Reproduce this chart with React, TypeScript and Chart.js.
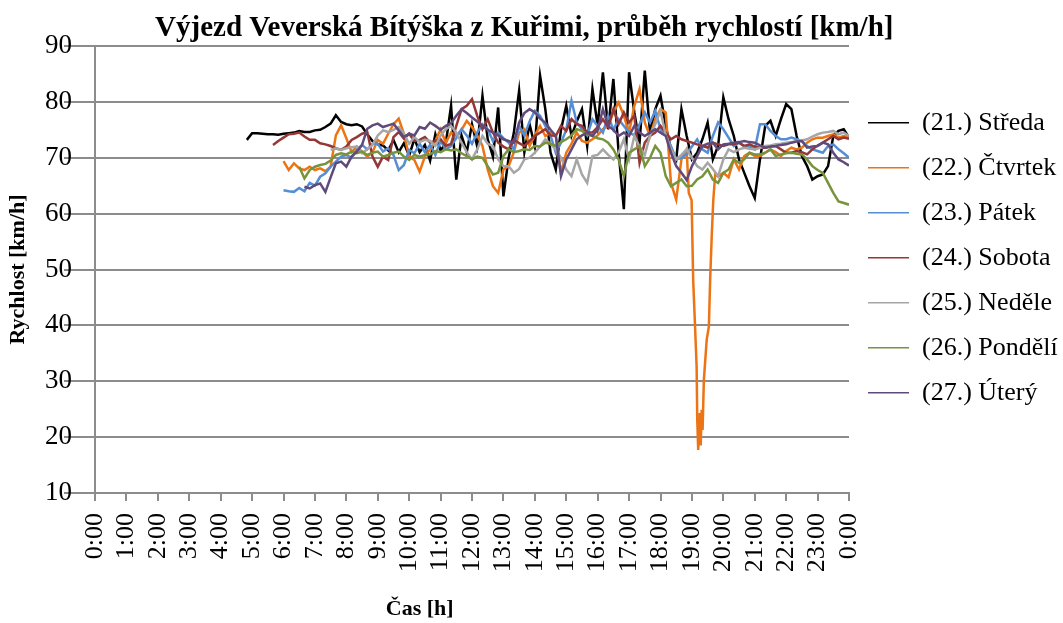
import React, { useEffect, useRef } from 'react';
import { Chart, registerables } from 'chart.js';

Chart.register(...registerables);

const FONT = "'Liberation Serif', 'Times New Roman', serif";
const GRID = '#8c8c8c';

const TITLE = 'Výjezd Veverská Bítýška z Kuřimi, průběh rychlostí [km/h]';
const Y_TITLE = 'Rychlost [km/h]';
const X_TITLE = 'Čas [h]';

const hourLabels = [
  '0:00', '1:00', '2:00', '3:00', '4:00', '5:00', '6:00', '7:00', '8:00', '9:00', '10:00', '11:00',
  '12:00', '13:00', '14:00', '15:00', '16:00', '17:00', '18:00', '19:00', '20:00', '21:00', '22:00', '23:00', '0:00',
];

const seriesNames = [
  '(21.) Středa', '(22.) Čtvrtek', '(23.) Pátek', '(24.) Sobota', '(25.) Neděle', '(26.) Pondělí', '(27.) Úterý',
];
const seriesColors = ['#000000', '#EC7414', '#558ED5', '#953735', '#A6A6A6', '#77933C', '#604A7B'];

// sampling step: 10 minutes (in hours)
const STEP = 1 / 6;

// (21.) Středa – from 4:50
const stredaStart = 4 + 50 / 60;
const stredaValues = [
  73.2,
  74.4, 74.4, 74.3, 74.2, 74.2, 74.1,
  74.3, 74.4, 74.5, 74.8, 74.6, 74.6,
  74.9, 75.0, 75.5, 76.1, 77.6, 76.4,
  76.0, 75.8, 76.0, 75.6, 74.2, 73.0,
  72.4, 72.2, 71.3, 73.2, 71.0, 72.6,
  70.4, 73.4, 71.0, 72.3, 69.5, 74.2,
  71.3, 72.6, 79.3, 66.1, 74.0, 71.0,
  76.0, 72.0, 81.1, 73.3, 70.2, 79.0,
  63.1, 70.0, 74.5, 82.0, 71.0, 76.0,
  72.0, 84.7, 78.7, 70.9, 67.9, 75.0,
  79.3, 73.9, 76.5, 78.7, 72.1, 82.3,
  75.7, 85.3, 75.1, 84.1, 71.0, 60.8,
  85.3, 78.1, 72.7, 85.6, 74.5, 78.7,
  81.1, 75.7, 71.5, 69.7, 78.7, 73.9,
  69.7, 70.9, 73.3, 76.3, 69.7, 72.1,
  80.8, 76.9, 73.9, 69.7, 67.3, 64.9,
  62.8, 69.7, 75.7, 76.6, 73.9, 76.9,
  79.6, 78.7, 73.9, 70.3, 68.5, 66.1,
  66.7, 67.0, 68.5, 73.9, 74.8, 75.1,
  73.6,
];

// (22.) Čtvrtek – from 6:00 to 18:50, the drop near 19:00, then from 19:50
const ctvrtekStartA = 6;
const ctvrtekValuesA = [
  69.4, 67.8, 69.0, 68.1, 67.8, 68.4,
  67.8, 68.1, 67.6, 68.4, 74.0, 75.8,
  73.5, 71.0, 72.0, 71.1, 70.2, 71.0,
  73.2, 72.5, 74.3, 76.0, 77.0, 74.3,
  70.2, 69.6, 67.5, 70.2, 71.5, 73.0,
  75.1, 72.7, 74.5, 73.9, 75.0, 76.6,
  75.5, 74.0, 72.1, 67.9, 64.9, 63.7,
  67.9, 68.5, 71.0, 74.5, 75.1, 72.1,
  74.0, 75.7, 73.9, 74.5, 74.0, 67.3,
  70.9, 72.5, 74.5, 73.0, 72.7, 73.3,
  74.0, 75.1, 75.7, 78.1, 79.9, 77.5,
  74.5, 79.3, 82.3, 76.3, 73.9, 76.9,
  78.7, 78.1, 65.5, 62.5, 69.7, 71.5,
];
const ctvrtekDipHours = [
  18.9, 18.99, 19.01, 19.04, 19.1, 19.15, 19.17, 19.2, 19.23, 19.25,
  19.28, 19.31, 19.34, 19.38, 19.47, 19.54, 19.58, 19.63, 19.68, 19.74,
];
const ctvrtekDipValues = [
  63.7, 62.4, 56.8, 48.1, 39.8, 32.6, 23.1, 17.7, 22.0, 24.3,
  18.5, 24.9, 21.3, 30.2, 37.4, 39.8, 48.1, 55.9, 62.4, 67.0,
];
const ctvrtekStartB = 19 + 50 / 60;
const ctvrtekValuesB = [
  66.7,
  67.3, 66.5, 69.7, 67.9, 70.3, 70.9,
  70.3, 70.3, 70.9, 71.5, 71.0, 70.3,
  71.2, 71.8, 71.5, 71.8, 72.7, 73.3,
  73.6, 73.6, 73.9, 74.2, 73.6, 73.9,
  73.6,
];

// (23.) Pátek – from 6:00
const patekStart = 6;
const patekValues = [
  64.2, 64.0, 63.9, 64.6, 64.0, 65.5,
  65.0, 66.6, 67.2, 68.4, 69.3, 70.2,
  70.5, 70.0, 71.4, 72.3, 71.5, 72.5,
  72.5, 71.1, 71.7, 70.5, 67.8, 68.7,
  71.4, 70.8, 72.5, 71.0, 72.3, 70.5,
  73.0, 71.5, 72.1, 73.5, 75.1, 74.0,
  72.5, 74.5, 76.0, 75.1, 73.0, 74.5,
  73.5, 72.7, 71.5, 75.7, 74.0, 76.5,
  78.4, 77.5, 75.7, 74.0, 70.9, 72.7,
  75.0, 80.2, 76.3, 75.1, 74.0, 76.9,
  75.7, 74.5, 77.5, 75.0, 76.9, 75.7,
  74.5, 74.0, 76.0, 78.1, 76.3, 78.4,
  75.1, 74.0, 72.1, 69.7, 70.0, 70.6,
  72.0, 73.3, 71.5, 70.9, 73.9, 76.3,
  75.1, 73.6, 72.1, 72.7, 72.1, 72.0,
  71.5, 76.0, 76.0, 74.8, 73.9, 73.3,
  73.3, 73.6, 73.3, 73.0, 72.1, 71.5,
  71.2, 70.9, 72.1, 72.4, 71.5, 70.8,
  70.0,
];

// (24.) Sobota – from 5:40
const sobotaStart = 5 + 40 / 60;
const sobotaValues = [
  72.3, 73.0,
  73.6, 74.2, 74.3, 74.5, 73.8, 73.2,
  73.2, 72.6, 72.4, 72.1, 71.7, 71.4,
  72.0, 73.2, 73.7, 74.3, 74.6, 70.2,
  68.4, 70.2, 69.6, 73.7, 74.6, 73.4,
  74.3, 73.0, 73.2, 73.7, 72.7, 73.0,
  73.3, 72.1, 72.5, 75.7, 78.7, 79.3,
  80.5, 77.5, 75.1, 76.9, 74.5, 72.7,
  72.0, 71.5, 73.3, 72.6, 72.1, 73.0,
  73.9, 74.5, 75.1, 74.0, 73.9, 75.7,
  74.8, 76.9, 76.0, 75.7, 74.5, 74.5,
  75.5, 76.9, 75.5, 78.7, 76.0, 78.1,
  76.3, 77.5, 69.1, 72.7, 73.9, 74.5,
  75.7, 74.5, 73.3, 73.9, 73.3, 73.0,
  72.7, 72.4, 72.1, 71.8, 72.7, 72.4,
  72.1, 72.4, 72.4, 72.7, 72.1, 72.4,
  72.0, 71.8, 71.8, 72.0, 72.1, 71.5,
  70.9, 70.9, 71.2, 71.0, 70.6, 71.5,
  72.2, 72.7, 73.3, 73.9, 73.3, 73.6,
  73.4,
];

// (25.) Neděle – from 7:30
const nedeleStart = 7.5;
const nedeleValues = [
  71.4, 71.7, 71.4,
  71.7, 71.9, 72.0, 70.8, 71.5, 72.3,
  74.0, 74.9, 74.6, 75.0, 75.5, 74.3,
  72.5, 73.7, 72.8, 73.2, 73.0, 72.1,
  74.0, 75.1, 75.7, 74.5, 72.7, 71.0,
  69.7, 71.5, 73.9, 72.5, 72.1, 69.7,
  68.5, 68.5, 67.3, 68.0, 69.7, 70.0,
  70.9, 72.0, 73.3, 72.5, 71.5, 70.0,
  67.9, 66.7, 69.7, 67.0, 65.5, 70.3,
  70.5, 71.5, 70.5, 69.7, 70.9, 73.3,
  69.7, 73.9, 72.0, 70.5, 74.0, 76.0,
  78.4, 74.0, 71.5, 69.7, 70.5, 71.5,
  70.0, 68.5, 67.9, 69.1, 68.0, 66.7,
  69.7, 71.5, 71.0, 71.5, 71.8, 71.6,
  71.5, 71.8, 72.1, 72.2, 72.4, 72.5,
  72.7, 72.8, 73.0, 73.1, 73.3, 73.8,
  74.2, 74.5, 74.6, 74.8, 74.2, 74.5,
  73.9,
];

// (26.) Pondělí – from 6:30
const pondeliStart = 6.5;
const pondeliValues = [
  68.4, 66.3, 67.8,
  68.4, 68.7, 68.9, 69.5, 70.5, 70.8,
  70.6, 71.1, 70.8, 71.1, 70.5, 70.9,
  71.1, 70.2, 70.5, 70.9, 71.1, 70.2,
  69.6, 70.5, 70.2, 70.5, 70.6, 71.2,
  71.0, 71.5, 71.3, 71.5, 70.8, 70.3,
  69.7, 70.2, 70.0, 68.5, 67.0, 67.3,
  70.3, 71.5, 71.0, 71.2, 71.5, 71.4,
  72.1, 72.0, 72.7, 72.5, 72.1, 72.8,
  73.3, 74.0, 75.1, 74.8, 74.2, 73.9,
  73.5, 73.3, 72.7, 71.5, 69.7, 66.7,
  70.9, 71.5, 72.1, 68.5, 70.0, 72.1,
  70.9, 66.7, 64.9, 65.5, 66.1, 64.9,
  65.0, 66.1, 66.7, 67.9, 66.1, 65.5,
  67.3, 67.9, 69.7, 69.1, 69.7, 70.9,
  70.6, 70.6, 70.9, 71.5, 70.3, 70.6,
  70.8, 70.9, 70.7, 70.6, 69.7, 68.5,
  67.8, 67.3, 65.5, 63.7, 62.2, 61.9,
  61.6,
];

// (27.) Úterý – from 6:40
const uteryStart = 6 + 40 / 60;
const uteryValues = [
  64.8, 64.5,
  65.1, 65.4, 63.9, 66.5, 69.0, 69.3,
  68.4, 70.2, 71.1, 72.3, 75.2, 75.8,
  76.1, 75.5, 75.8, 76.1, 74.9, 73.7,
  74.3, 74.0, 75.5, 75.2, 76.3, 75.7,
  75.0, 75.7, 76.2, 77.5, 78.7, 78.0,
  77.2, 76.5, 75.7, 75.0, 74.5, 74.0,
  73.3, 73.0, 72.7, 76.3, 78.0, 78.7,
  78.1, 77.0, 76.3, 75.0, 73.9, 66.7,
  69.7, 71.5, 73.3, 74.0, 74.5, 73.9,
  75.0, 78.7, 75.7, 75.0, 73.9, 74.5,
  73.9, 75.7, 74.5, 73.9, 74.5, 75.1,
  74.5, 73.9, 70.9, 68.5, 67.3, 66.0,
  68.5, 70.3, 72.1, 72.5, 72.7, 71.5,
  72.4, 72.5, 72.7, 72.8, 73.0, 72.8,
  72.7, 72.2, 71.8, 72.0, 72.1, 72.3,
  72.4, 72.7, 72.9, 73.0, 71.8, 72.0,
  72.1, 72.7, 72.4, 70.9, 69.7, 69.2,
  68.6,
];

const LEGEND_WIDTH = 214;

function toPoints(start: number, values: number[]) {
  return values.map((y, i) => ({ x: start + i * STEP, y }));
}

const legendWidthPlugin = {
  id: 'fixedLegendWidth',
  beforeLayout(chart: any) {
    const lg = chart.legend;
    if (lg && !lg.__fixedWidth) {
      const orig = lg.fit.bind(lg);
      lg.fit = () => {
        orig();
        lg.width = LEGEND_WIDTH;
      };
      lg.__fixedWidth = true;
    }
  },
};

export default function App() {
  const ref = useRef<HTMLCanvasElement | null>(null);

  useEffect(() => {
    if (!ref.current) return;
    Chart.defaults.font.family = FONT;
    Chart.defaults.color = '#000';

    const seriesData = [
      toPoints(stredaStart, stredaValues),
      [
        ...toPoints(ctvrtekStartA, ctvrtekValuesA),
        ...ctvrtekDipHours.map((x, i) => ({ x, y: ctvrtekDipValues[i] })),
        ...toPoints(ctvrtekStartB, ctvrtekValuesB),
      ],
      toPoints(patekStart, patekValues),
      toPoints(sobotaStart, sobotaValues),
      toPoints(nedeleStart, nedeleValues),
      toPoints(pondeliStart, pondeliValues),
      toPoints(uteryStart, uteryValues),
    ];

    const datasets = seriesData.map((data, i) => ({
      label: seriesNames[i],
      data,
      borderColor: seriesColors[i],
      backgroundColor: seriesColors[i],
      pointBorderColor: seriesColors[i],
      pointBackgroundColor: seriesColors[i],
      pointBorderWidth: 1.5,
      borderWidth: 2.5,
      pointRadius: 0,
      pointHoverRadius: 0,
      tension: 0,
      fill: false,
      order: seriesNames.length - 1 - i,
    }));

    const chart = new Chart(ref.current, {
      type: 'line',
      data: { datasets },
      options: {
        animation: false,
        responsive: false,
        devicePixelRatio: 1,
        layout: { padding: 0 },
        events: [],
        plugins: {
          title: {
            display: true,
            text: TITLE + '  ',
            color: '#000',
            font: { family: FONT, size: 29, weight: 'bold', lineHeight: 1.1 },
            padding: { top: 12.5, bottom: 1.6 },
          },
          legend: {
            position: 'right',
            align: 'start',
            fullSize: false,
            title: {
              display: true,
              text: '',
              font: { size: 10, lineHeight: 1 },
              padding: { top: 34.7, bottom: 0 },
            },
            labels: {
              color: '#000',
              font: { family: FONT, size: 26 },
              usePointStyle: true,
              pointStyle: 'line',
              pointStyleWidth: 41,
              padding: 19,
              sort: (a: any, b: any) => a.datasetIndex - b.datasetIndex,
            },
          },
          tooltip: { enabled: false },
        },
        scales: {
          x: {
            type: 'linear',
            min: 0,
            max: 24,
            ticks: {
              stepSize: 1,
              autoSkip: false,
              maxRotation: 90,
              minRotation: 90,
              padding: 12,
              color: '#000',
              font: { family: FONT, size: 26 },
              callback: (v: any) => hourLabels[Math.round(Number(v))],
            },
            grid: { drawOnChartArea: false, drawTicks: true, tickLength: 8, color: GRID, lineWidth: 2 },
            border: { display: true, color: GRID, width: 2 },
            title: {
              display: true,
              text: X_TITLE + ' '.repeat(19),
              color: '#000',
              font: { family: FONT, size: 22, weight: 'bold', lineHeight: 1.2 },
              padding: { top: 0, bottom: 0 },
            },
            afterFit: (s: any) => {
              s.height = 130;
            },
          },
          y: {
            type: 'linear',
            min: 10,
            max: 90,
            ticks: {
              stepSize: 10,
              padding: -8,
              color: '#000',
              font: { family: FONT, size: 27 },
            },
            grid: { color: GRID, lineWidth: 2, tickLength: 31, drawTicks: true },
            border: { display: true, color: GRID, width: 2 },
            title: {
              display: true,
              text: Y_TITLE,
              color: '#000',
              font: { family: FONT, size: 22, weight: 'bold', lineHeight: 1.2 },
              padding: { top: 4.8, bottom: 0 },
            },
            afterFit: (s: any) => {
              s.width = 95;
            },
          },
        },
      } as any,
      plugins: [legendWidthPlugin],
    });

    return () => chart.destroy();
  }, []);

  return (
    <div style={{ position: 'absolute', left: 0, top: 0, width: 1063, height: 623, background: '#fff' }}>
      <canvas ref={ref} width={1063} height={623} style={{ display: 'block', width: 1063, height: 623 }} />
    </div>
  );
}
